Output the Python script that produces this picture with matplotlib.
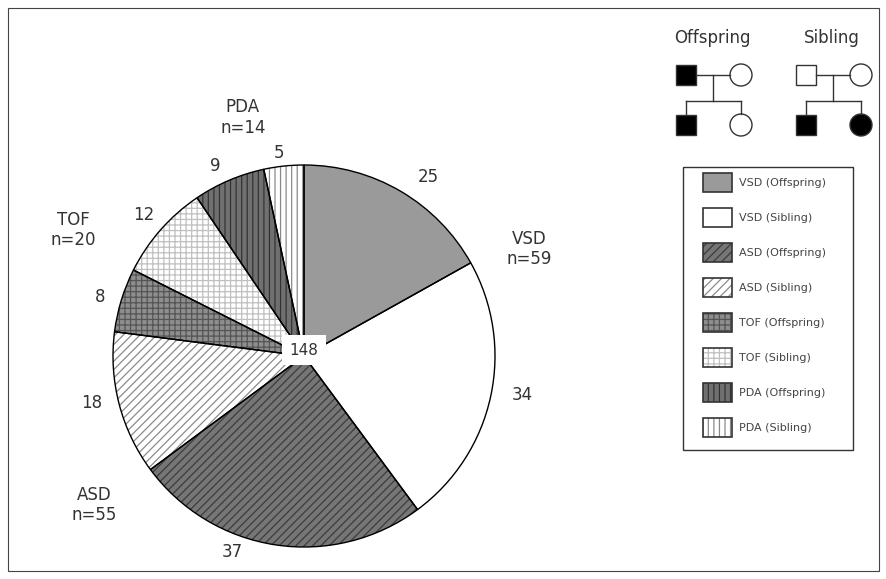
import matplotlib.pyplot as plt
from matplotlib.patches import Patch, Rectangle, Circle
import numpy as np

plt.rcParams['font.family'] = ['DejaVu Sans']
plt.rcParams['hatch.linewidth'] = 0.9

# data: slices clockwise from 12 o'clock
labels = ['VSD (Offspring)', 'VSD (Sibling)', 'ASD (Offspring)', 'ASD (Sibling)',
          'TOF (Offspring)', 'TOF (Sibling)', 'PDA (Offspring)', 'PDA (Sibling)']
counts = [25, 34, 37, 18, 8, 12, 9, 5]
groups = ['VSD', 'ASD', 'TOF', 'PDA']
group_n = [59, 55, 20, 14]
total = 148

# styles
colors = ['#9a9a9a', 'white', '#767676', 'white', '#8e8e8e', 'white', '#707070', 'white']
hatches = [None, None, '////', '////', '+++', '+++', '|||', '|||']
hatch_colors = ['#9a9a9a', 'white', '#3c3c3c', '#8a8a8a', '#555555', '#c0c0c0', '#333333', '#8a8a8a']
num_dist = [1.14, 1.16, 1.09, 1.14, 1.11, 1.12, 1.10, 1.07]
num_shift = [4.5, -2, 11.5, 2, -1, 0, -2, -1]   # degrees clockwise

W, H = 887, 579
fig = plt.figure(figsize=(W / 100, H / 100), dpi=100)

# outer frame around whole figure
frame = fig.add_axes([0, 0, 1, 1])
frame.set_xlim(0, W)
frame.set_ylim(H, 0)
frame.axis('off')
frame.add_patch(Rectangle((8, 8), W - 16, H - 16, fill=False, lw=0.8, ec='#444444'))

# pie
cx, cy, r = 304, 356, 191
ax = fig.add_axes([(cx - r) / W, 1 - (cy + r) / H, 2 * r / W, 2 * r / H])
wedges, _ = ax.pie(counts, startangle=90, counterclock=False, colors=colors,
                   wedgeprops=dict(linewidth=0), radius=1)
for w, h, hc in zip(wedges, hatches, hatch_colors):
    w.set_edgecolor(hc)
    if h:
        w.set_hatch(h)
# black outlines on top
ax.pie(counts, startangle=90, counterclock=False,
       wedgeprops=dict(fill=False, edgecolor='black', linewidth=1.0), radius=1)
ax.set_xlim(-1, 1)
ax.set_ylim(-1, 1)
ax.set_aspect('equal')

for w, c, d, s in zip(wedges, counts, num_dist, num_shift):
    ang = np.deg2rad((w.theta1 + w.theta2) / 2 - s)
    ax.text(d * np.cos(ang), d * np.sin(ang), str(c), ha='center', va='center',
            fontsize=12, color='#333333', clip_on=False)

ax.text(0, 0.03, str(total), ha='center', va='center', fontsize=11, color='#333333',
        bbox=dict(boxstyle='square,pad=0.5', fc='white', ec='none'))

# group labels
group_pos = [(1.18, 0.56), (-1.10, -0.78), (-1.21, 0.66), (-0.32, 1.25)]
for g, n, (x, y) in zip(groups, group_n, group_pos):
    ax.text(x, y, f'{g}\nn={n}', ha='center', va='center', fontsize=12,
            color='#333333', linespacing=1.2, clip_on=False)

# pedigree diagrams
def sq(x, y, filled):
    frame.add_patch(Rectangle((x - 10, y - 10), 20, 20, fc='black' if filled else 'white',
                              ec='#333333', lw=1))

def circ(x, y, filled):
    frame.add_patch(Circle((x, y), 11, fc='black' if filled else 'white', ec='#333333', lw=1))

for x0, title, dad, kid2 in [(686, 'Offspring', True, False), (806, 'Sibling', False, True)]:
    frame.text(x0 + 26, 38, title, ha='center', va='center', fontsize=12, color='#333333')
    mx = x0 + 27
    frame.plot([x0 + 10, x0 + 44], [75, 75], color='#333333', lw=1)
    frame.plot([mx, mx], [75, 101], color='#333333', lw=1)
    frame.plot([x0, x0 + 55], [101, 101], color='#333333', lw=1)
    frame.plot([x0, x0], [101, 115], color='#333333', lw=1)
    frame.plot([x0 + 55, x0 + 55], [101, 114], color='#333333', lw=1)
    sq(x0, 75, dad)
    circ(x0 + 55, 75, False)
    sq(x0, 125, True)
    circ(x0 + 55, 125, kid2)

# legend (frame drawn separately)
frame.add_patch(Rectangle((683, 167), 170, 283, fill=False, ec='#333333', lw=1))
handles = [(Patch(fc=c, ec=hc, lw=0, hatch=h), Patch(fill=False, ec='#333333', lw=1.2))
           for c, h, hc in zip(colors, hatches, hatch_colors)]
leg = fig.legend(handles, labels, loc='upper left', bbox_to_anchor=(703 / W, 1 - 173 / H),
                 fontsize=8, frameon=False, handlelength=2.6, handleheight=2.25,
                 labelspacing=1.44, borderpad=0, handletextpad=0.65, borderaxespad=0)
for t in leg.get_texts():
    t.set_color('#444444')

fig.savefig('out.png', dpi=100)
